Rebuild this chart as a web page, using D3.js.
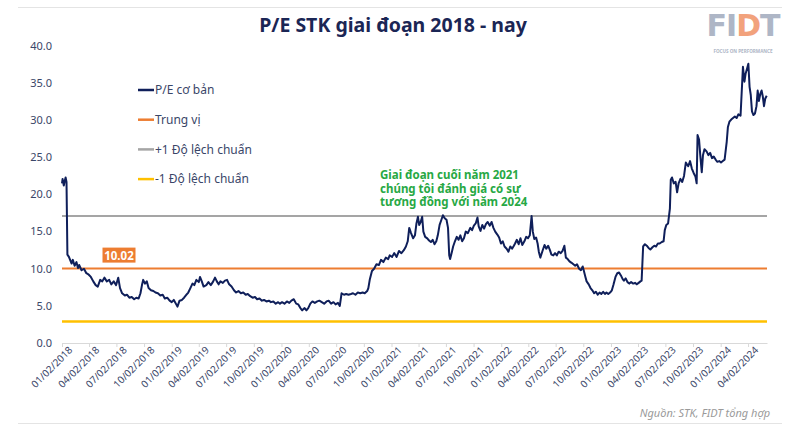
<!DOCTYPE html>
<html><head><meta charset="utf-8">
<script src="https://cdn.jsdelivr.net/npm/d3@7"></script>
<style>
html,body{margin:0;padding:0;background:#fff;}
svg{display:block;font-family:"Noto Sans","Open Sans",sans-serif;}
</style></head>
<body><svg id="chart" width="800" height="430"></svg>
<script>
// ---------- DATA ----------
const dates = [
"2018-01-02","2018-01-04","2018-01-08","2018-01-11","2018-01-14","2018-01-17","2018-01-20","2018-01-25","2018-01-29","2018-02-03",
"2018-02-07","2018-02-13","2018-02-19","2018-02-24","2018-02-28","2018-03-08","2018-03-16","2018-03-24","2018-04-01","2018-04-08",
"2018-04-16","2018-04-24","2018-05-01","2018-05-09","2018-05-16","2018-05-23","2018-05-31","2018-06-08","2018-06-15","2018-06-23",
"2018-07-01","2018-07-08","2018-07-14","2018-07-21","2018-07-30","2018-08-06","2018-08-14","2018-08-22","2018-08-30","2018-09-06",
"2018-09-14","2018-09-20","2018-09-25","2018-09-29","2018-10-05","2018-10-11","2018-10-17","2018-10-25","2018-11-02","2018-11-09",
"2018-11-17","2018-11-25","2018-12-03","2018-12-10","2018-12-18","2018-12-26",
"2019-01-02","2019-01-09","2019-01-17","2019-01-21","2019-01-28","2019-02-05","2019-02-12","2019-02-20","2019-02-26","2019-03-05",
"2019-03-12","2019-03-18","2019-03-25","2019-04-02","2019-04-06","2019-04-12","2019-04-18","2019-04-27","2019-05-04","2019-05-12",
"2019-05-20","2019-05-26","2019-06-01","2019-06-07","2019-06-13","2019-06-21","2019-06-28","2019-07-05","2019-07-12","2019-07-20",
"2019-07-28","2019-08-04","2019-08-12","2019-08-20","2019-08-28","2019-09-05","2019-09-12","2019-09-20","2019-09-28","2019-10-06",
"2019-10-13","2019-10-21","2019-10-29","2019-11-05","2019-11-13","2019-11-21","2019-11-28","2019-12-06","2019-12-14","2019-12-22",
"2019-12-28","2020-01-04","2020-01-12","2020-01-20","2020-01-28","2020-02-04","2020-02-12","2020-02-20","2020-02-27","2020-03-05",
"2020-03-11","2020-03-19","2020-03-25","2020-03-31","2020-04-07","2020-04-14","2020-04-22","2020-04-30","2020-05-07","2020-05-15",
"2020-05-23","2020-05-31","2020-06-07","2020-06-15","2020-06-23","2020-06-30","2020-07-08","2020-07-14","2020-07-20","2020-07-28",
"2020-08-04","2020-08-12","2020-08-20","2020-08-27","2020-09-04","2020-09-12","2020-09-20","2020-09-28","2020-10-05","2020-10-13",
"2020-10-17","2020-10-22","2020-10-29","2020-11-05","2020-11-13","2020-11-21","2020-11-28","2020-12-06","2020-12-14","2020-12-22",
"2020-12-27","2021-01-04","2021-01-11","2021-01-19","2021-01-27","2021-02-04","2021-02-12","2021-02-19","2021-02-25","2021-03-02",
"2021-03-08","2021-03-15","2021-03-21","2021-03-26","2021-03-31","2021-04-04","2021-04-09","2021-04-14","2021-04-18","2021-04-24",
"2021-05-01","2021-05-07","2021-05-13","2021-05-19","2021-05-25","2021-05-31","2021-06-05","2021-06-11","2021-06-17","2021-06-22",
"2021-06-28","2021-07-04","2021-07-09","2021-07-13","2021-07-16","2021-07-22","2021-07-26","2021-08-01","2021-08-07","2021-08-13",
"2021-08-19","2021-08-25","2021-08-31","2021-09-06","2021-09-13","2021-09-21","2021-09-27","2021-10-03","2021-10-09","2021-10-15",
"2021-10-19","2021-10-25","2021-10-31","2021-11-06","2021-11-12","2021-11-18","2021-11-25","2021-12-01","2021-12-07","2021-12-13",
"2021-12-20","2021-12-26","2022-01-01","2022-01-07","2022-01-13","2022-01-20","2022-01-26","2022-02-01","2022-02-07","2022-02-13",
"2022-02-17","2022-02-23","2022-03-01","2022-03-07","2022-03-13","2022-03-20","2022-03-26","2022-04-01","2022-04-07","2022-04-13",
"2022-04-17","2022-04-22","2022-04-28","2022-05-03","2022-05-07","2022-05-12","2022-05-20","2022-05-26","2022-06-01","2022-06-07",
"2022-06-13","2022-06-18","2022-06-24","2022-06-30","2022-07-06","2022-07-12","2022-07-19","2022-07-25","2022-07-31","2022-08-05",
"2022-08-11","2022-08-17","2022-08-24","2022-08-30","2022-09-05","2022-09-11","2022-09-18","2022-09-24","2022-09-30","2022-10-04",
"2022-10-09","2022-10-13","2022-10-20","2022-10-26","2022-11-01","2022-11-07","2022-11-13","2022-11-19","2022-11-25","2022-12-01",
"2022-12-07","2022-12-13","2022-12-18","2022-12-24","2022-12-30","2023-01-05","2023-01-10","2023-01-17","2023-01-23","2023-01-29",
"2023-02-04","2023-02-10","2023-02-14","2023-02-20","2023-02-26","2023-03-04","2023-03-10","2023-03-17","2023-03-23","2023-03-29",
"2023-04-04","2023-04-10","2023-04-14","2023-04-19","2023-04-25","2023-05-01","2023-05-07","2023-05-13","2023-05-20","2023-05-26",
"2023-06-01","2023-06-07","2023-06-13","2023-06-20","2023-06-26","2023-06-30","2023-07-05","2023-07-11","2023-07-17","2023-07-20",
"2023-07-24","2023-07-30","2023-08-05","2023-08-10","2023-08-15","2023-08-21","2023-08-27","2023-09-02","2023-09-08","2023-09-16",
"2023-09-22","2023-09-28","2023-10-04","2023-10-10","2023-10-14","2023-10-17","2023-10-22","2023-10-26","2023-10-31","2023-11-04",
"2023-11-09","2023-11-16","2023-11-22","2023-11-28","2023-12-04","2023-12-10","2023-12-16","2023-12-22","2023-12-28","2024-01-03",
"2024-01-09","2024-01-15","2024-01-22","2024-01-26","2024-01-31","2024-02-06","2024-02-12","2024-02-18","2024-02-24","2024-03-01",
"2024-03-08","2024-03-12","2024-03-16","2024-03-21","2024-03-25","2024-03-30","2024-04-03","2024-04-07","2024-04-11","2024-04-15",
"2024-04-20","2024-04-25","2024-04-30","2024-05-04","2024-05-08","2024-05-13","2024-05-17","2024-05-21","2024-05-25","2024-05-29","2024-06-03"
];
const peValues = [
21.5,22.1,21.2,21.8,22.3,21.7,11.9,11.6,11.2,10.7,
11.2,10.4,10.9,10.1,10.5,9.8,10.0,9.4,9.2,8.9,
8.3,7.8,7.6,8.5,8.3,8.8,8.3,8.5,7.9,8.3,
7.8,8.8,7.4,6.7,6.4,6.5,6.1,6.2,5.9,6.1,
6.0,6.7,7.8,8.5,8.0,8.3,7.4,7.1,7.0,6.8,
6.7,6.4,6.5,6.0,6.1,5.7,
5.5,5.8,5.2,4.9,5.7,5.8,6.1,6.5,6.8,7.4,
8.0,7.8,8.5,8.2,8.9,8.3,7.6,7.8,8.2,7.8,
8.3,8.8,8.3,7.9,8.3,8.1,8.4,8.5,7.9,7.6,
7.1,6.8,7.0,6.7,6.8,6.5,6.6,6.3,6.1,6.2,
5.9,6.0,5.7,5.8,5.6,5.7,5.5,5.6,5.3,5.5,
5.3,5.5,5.3,5.6,5.4,5.7,5.9,5.3,5.2,4.7,
4.4,4.7,4.4,4.7,5.3,5.6,5.4,5.6,5.7,5.5,
5.3,5.6,5.7,5.3,5.5,5.2,5.4,5.0,6.7,6.5,
6.6,6.5,6.6,6.7,6.5,6.8,6.7,6.8,6.7,7.0,
7.4,8.6,9.7,10.0,10.6,10.5,11.2,10.9,11.5,11.3,
11.8,11.6,12.1,11.6,12.4,12.1,12.5,13.0,13.7,15.5,
14.8,14.1,14.5,16.1,17.0,15.9,16.3,17.0,15.0,14.3,
14.1,13.8,13.6,13.9,13.3,13.7,14.5,15.9,16.6,17.2,
16.8,16.6,15.5,11.8,11.3,12.3,13.0,13.7,14.3,13.9,
14.5,13.7,14.1,15.0,14.8,15.5,15.2,15.8,16.1,16.9,
15.7,15.1,15.9,15.4,16.0,16.3,15.8,16.3,15.5,15.0,
14.6,14.2,13.4,13.7,13.0,12.7,12.3,13.0,12.7,13.1,
13.4,13.9,13.3,14.1,13.2,13.7,14.3,14.1,14.5,17.1,
15.0,14.0,14.2,13.4,12.3,11.5,12.5,13.2,12.7,13.1,
12.5,11.9,11.8,12.1,11.8,12.3,12.1,12.4,13.1,11.5,
11.3,11.0,10.8,10.6,10.4,10.6,10.0,9.8,10.3,9.7,
8.9,8.3,7.9,7.4,7.1,6.7,6.9,6.5,6.8,6.6,
6.9,6.6,6.8,6.6,6.8,7.1,7.8,8.9,9.4,9.5,
9.1,8.6,8.4,8.7,8.2,8.0,8.2,8.0,8.1,7.9,
8.1,8.3,8.4,13.0,13.3,13.1,12.8,12.6,12.9,13.1,
13.0,13.4,13.4,13.6,13.7,15.2,15.9,16.1,18.1,22.0,
22.3,21.5,21.7,20.3,21.5,22.1,21.7,22.5,24.3,23.8,
24.5,23.5,22.9,22.4,21.5,28.0,27.4,25.3,23.0,25.3,
26.1,25.8,25.3,25.6,24.9,25.1,24.7,24.4,24.5,24.3,
24.5,24.7,27.1,29.1,29.8,30.1,30.3,30.5,30.3,30.8,
30.6,33.9,37.2,35.2,36.3,37.0,37.6,34.5,33.4,31.2,
30.7,30.9,31.9,34.0,32.6,33.6,34.0,33.2,31.9,32.9,33.3
];
const medianPE = 10.02;
const plusOneSD = 17.1;
const minusOneSD = 2.9;
const yTicks = [0,5,10,15,20,25,30,35,40];
const xTickDates = ["2018-01-02","2018-04-02","2018-07-02","2018-10-02","2019-01-02","2019-04-02","2019-07-02","2019-10-02",
"2020-01-02","2020-04-02","2020-07-02","2020-10-02","2021-01-02","2021-04-02","2021-07-02","2021-10-02",
"2022-01-02","2022-04-02","2022-07-02","2022-10-02","2023-01-02","2023-04-02","2023-07-02","2023-10-02",
"2024-01-02","2024-04-02"];
const xTickLabels = ["01/02/2018","04/02/2018","07/02/2018","10/02/2018","01/02/2019","04/02/2019","07/02/2019","10/02/2019",
"01/02/2020","04/02/2020","07/02/2020","10/02/2020","01/02/2021","04/02/2021","07/02/2021","10/02/2021",
"01/02/2022","04/02/2022","07/02/2022","10/02/2022","01/02/2023","04/02/2023","07/02/2023","10/02/2023",
"01/02/2024","04/02/2024"];
const legendItems = ["P/E cơ bản","Trung vị","+1 Độ lệch chuẩn","-1 Độ lệch chuẩn"];
const annotationLines = ["Giai đoạn cuối năm 2021","chúng tôi đánh giá có sự","tương đồng với năm 2024"];
// ---------- END DATA ----------

const parse = d3.timeParse("%Y-%m-%d");
const series = dates.map((d,i)=>({date:parse(d), value:peValues[i]}));
const svg = d3.select("#chart");
const C = {navy:"#0f1f5a", orange:"#ed7d31", gray:"#a5a5a5", yellow:"#ffc000", text:"#3a4668", green:"#27a844"};

const x = d3.scaleTime().domain([parse("2018-01-02"), parse("2024-06-04")]).range([62, 767]);
const y = d3.scaleLinear().domain([0,40]).range([343, 46]);

// frame lines
svg.append("line").attr("x1",18).attr("x2",782).attr("y1",7.5).attr("y2",7.5).attr("stroke","#e4e4e4");
svg.append("line").attr("x1",18).attr("x2",782).attr("y1",423.5).attr("y2",423.5).attr("stroke","#e4e4e4");

// title
svg.append("text").attr("x",393).attr("y",32).attr("text-anchor","middle")
  .attr("font-size",19.5).attr("font-weight",700).attr("fill","#1b2655").text("P/E STK giai đoạn 2018 - nay");

// logo (text)
const logo = svg.append("g");
logo.append("text").attr("x",743).attr("y",36).attr("text-anchor","middle").attr("font-size",30)
  .attr("font-weight",900).attr("font-family","'DejaVu Sans', sans-serif").attr("letter-spacing",-1)
  .selectAll("tspan").data([["F","#aeb6c6"],["I","#aeb6c6"],["D","#f2a27c"],["T","#aeb6c6"]]).join("tspan")
  .attr("fill",d=>d[1]).text(d=>d[0]);
logo.append("text").attr("x",743).attr("y",53).attr("text-anchor","middle").attr("font-size",4.6)
  .attr("font-weight",700).attr("fill","#aeb6c6").text("FOCUS ON PERFORMANCE");

// y axis labels
svg.append("g").selectAll("text").data(yTicks).join("text")
  .attr("x",52).attr("y",d=>y(d)).attr("dy","0.35em").attr("text-anchor","end")
  .attr("font-size",11).attr("fill",C.text).text(d=>d3.format(".1f")(d));

// x axis
const xAxis = d3.axisBottom(x).tickValues(xTickDates.map(parse)).tickSize(4).tickSizeOuter(0)
  .tickFormat((d,i)=>xTickLabels[i]);
const gx = svg.append("g").attr("transform","translate(0,343)").call(xAxis);
gx.select(".domain").attr("stroke","#d9d9d9");
gx.selectAll(".tick line").attr("stroke","#d9d9d9");
gx.selectAll(".tick text").attr("font-size",10).attr("fill",C.text)
  .attr("font-family","'Noto Sans', sans-serif")
  .attr("text-anchor","end").attr("dx","0.2em").attr("dy","0.6em")
  .attr("transform","rotate(-45)");

// reference lines
const refs = [[plusOneSD,C.gray,2],[medianPE,C.orange,2],[minusOneSD,C.yellow,2.5]];
svg.append("g").selectAll("line").data(refs).join("line")
  .attr("x1",x.range()[0]).attr("x2",x.range()[1]).attr("y1",d=>y(d[0])).attr("y2",d=>y(d[0]))
  .attr("stroke",d=>d[1]).attr("stroke-width",d=>d[2]);

// series
svg.append("path").datum(series).attr("fill","none").attr("stroke",C.navy).attr("stroke-width",2)
  .attr("stroke-linejoin","round")
  .attr("d",d3.line().x(d=>x(d.date)).y(d=>y(d.value)));

// median label
const lblX = 119, lblY = y(medianPE) - 13;
svg.append("rect").attr("x",lblX-16.5).attr("y",lblY-8).attr("width",33).attr("height",15).attr("fill",C.orange);
svg.append("text").attr("x",lblX).attr("y",lblY).attr("dy","0.36em").attr("text-anchor","middle")
  .attr("font-size",11.5).attr("font-weight",700).attr("fill","#fff").text(d3.format(".2f")(medianPE));

// legend
const legColors = [C.navy,C.orange,C.gray,C.yellow];
const leg = svg.append("g").selectAll("g").data(legendItems).join("g")
  .attr("transform",(d,i)=>`translate(138,${90+i*29.7})`);
leg.append("line").attr("x1",0).attr("x2",16).attr("stroke",(d,i)=>legColors[i]).attr("stroke-width",2.5);
leg.append("text").attr("x",17).attr("dy","0.35em").attr("font-size",12).attr("fill",C.text).text(d=>d);

// annotation
svg.append("g").selectAll("text").data(annotationLines).join("text")
  .attr("x",380).attr("y",(d,i)=>179+i*13.5).attr("font-size",11.5).attr("font-weight",700)
  .attr("fill",C.green).text(d=>d);

// source
svg.append("text").attr("x",770).attr("y",417).attr("text-anchor","end").attr("font-size",11)
  .attr("font-style","italic").attr("fill","#9a9a9a").text("Nguồn: STK, FIDT tổng hợp");
</script></body></html>
